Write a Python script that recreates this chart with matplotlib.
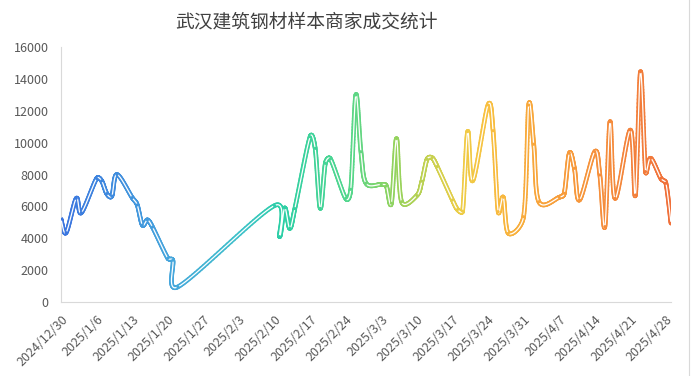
import numpy as np
import matplotlib
matplotlib.use("Agg")
import matplotlib.pyplot as plt
import matplotlib.dates as mdates
from matplotlib.collections import LineCollection
from matplotlib.colors import LinearSegmentedColormap
from matplotlib.lines import Line2D
import datetime as dt

plt.rcParams['font.family'] = ['Noto Sans CJK SC', 'DejaVu Sans']

title = "武汉建筑钢材样本商家成交统计"

dates = [
    "2024-12-30", "2024-12-31", "2025-01-02", "2025-01-03", "2025-01-06", "2025-01-07",
    "2025-01-08", "2025-01-09", "2025-01-10", "2025-01-13", "2025-01-14", "2025-01-15",
    "2025-01-16", "2025-01-17", "2025-01-20", "2025-01-21", "2025-01-22", "2025-02-10",
    "2025-02-11", "2025-02-12", "2025-02-13", "2025-02-14", "2025-02-17", "2025-02-18",
    "2025-02-19", "2025-02-20", "2025-02-21", "2025-02-24", "2025-02-25", "2025-02-26",
    "2025-02-27", "2025-02-28", "2025-03-03", "2025-03-04", "2025-03-05", "2025-03-06",
    "2025-03-07", "2025-03-10", "2025-03-11", "2025-03-12", "2025-03-13", "2025-03-14",
    "2025-03-17", "2025-03-18", "2025-03-19", "2025-03-20", "2025-03-21", "2025-03-24",
    "2025-03-25", "2025-03-26", "2025-03-27", "2025-03-28", "2025-03-31", "2025-04-01",
    "2025-04-02", "2025-04-03", "2025-04-07", "2025-04-08", "2025-04-09", "2025-04-10",
    "2025-04-11", "2025-04-14", "2025-04-15", "2025-04-16", "2025-04-17", "2025-04-18",
    "2025-04-21", "2025-04-22", "2025-04-23", "2025-04-24", "2025-04-25", "2025-04-27",
    "2025-04-28", "2025-04-29",
]
values = [
    5200, 4350, 6500, 5600, 7750, 7600,
    6800, 6650, 8000, 6550, 6090, 4830,
    5150, 4700, 2750, 2620, 950, 6050,
    4100, 5900, 4620, 5860, 10370, 9640,
    5880, 8700, 8980, 6500, 7070, 12990,
    9430, 7450, 7380, 7280, 6200, 10250,
    6290, 6680, 7580, 8950, 9050, 8500,
    6400, 5800, 5700, 10690, 7610, 12360,
    10750, 5670, 6570, 4310, 5350, 12360,
    9900, 6290, 6570, 6820, 9330, 8390,
    6400, 9430, 7970, 4730, 11310, 6500,
    10790, 6710, 14450, 8180, 9020, 7760,
    7450, 4940,
]
y_ticks = [0, 2000, 4000, 6000, 8000, 10000, 12000, 14000, 16000]
x_tick_start = "2024-12-30"
x_tick_count = 18

# colour gradient along the time axis
grad_pos = [0.0, 0.18, 0.30, 0.36, 0.47, 0.55, 0.62, 0.66, 0.70, 0.77, 0.88, 1.0]
grad_col = ["#3a74df", "#45a6dc", "#3cc2c8", "#2ccfa6", "#52d78d", "#95d35c",
            "#d2d04c", "#efcc46", "#f8c03f", "#f8a83b", "#f6913b", "#f0703a"]
cmap = LinearSegmentedColormap.from_list("g", list(zip(grad_pos, grad_col)))

d = [dt.datetime.strptime(s, "%Y-%m-%d") for s in dates]
xn = mdates.date2num(d)
yv = np.array(values, dtype=float)

fig = plt.figure(figsize=(6.92, 3.76), dpi=100)
ax = fig.add_axes([61 / 692, 1 - 302 / 376, 610 / 692, 255 / 376])
x0, x1 = xn[0], xn[-1]
ax.set_xlim(x0, x1)
ax.set_ylim(0, 16000)

# Excel-like smoothing computed in display space (cubic Bezier, limited tangents)
P = ax.transData.transform(np.column_stack([xn, yv]))
n = len(P)
curve = []
t = np.linspace(0, 1, 40)


def limit(v, L):
    ln = np.hypot(*v)
    return v * (L / ln) if ln > L and ln > 0 else v


for i in range(n - 1):
    p0 = P[i]
    p3 = P[i + 1]
    pm = P[i - 1] if i > 0 else P[i]
    pp = P[i + 2] if i + 2 < n else P[i + 1]
    seglen = np.hypot(*(p3 - p0))
    c1 = p0 + limit((p3 - pm) / 6.0, 0.5 * seglen)
    c2 = p3 - limit((pp - p0) / 6.0, 0.5 * seglen)
    seg = ((1 - t) ** 3)[:, None] * p0 + (3 * (1 - t) ** 2 * t)[:, None] * c1 \
        + (3 * (1 - t) * t ** 2)[:, None] * c2 + (t ** 3)[:, None] * p3
    curve.append(seg if i == 0 else seg[1:])
curve = ax.transData.inverted().transform(np.vstack(curve))

pts = curve.reshape(-1, 1, 2)
segs = np.concatenate([pts[:-1], pts[1:]], axis=1)
mid = (curve[:-1, 0] + curve[1:, 0]) / 2
cols = cmap(np.clip((mid - x0) / (x1 - x0), 0, 1))
lc = LineCollection(segs, colors=cols, linewidths=3.3, capstyle='round', joinstyle='round', zorder=2)
ax.add_collection(lc)
ax.plot(curve[:, 0], curve[:, 1], color="white", lw=0.9, zorder=3, solid_capstyle='round')
ax.scatter(xn, yv, s=5, c=cmap((xn - x0) / (x1 - x0)), zorder=4, linewidths=0)

ax.set_yticks(y_ticks)
ax.set_yticklabels([str(v) for v in y_ticks])

start = dt.datetime.strptime(x_tick_start, "%Y-%m-%d")
tick_dates = [start + dt.timedelta(days=7 * k) for k in range(x_tick_count)]
ax.set_xticks(mdates.date2num(tick_dates))
ax.set_xticklabels([f"{td.year}/{td.month}/{td.day}" for td in tick_dates],
                   rotation=45, ha='right', rotation_mode='anchor')

ax.tick_params(axis='both', length=0, labelsize=9, labelcolor="#595959")
ax.tick_params(axis='x', pad=8)
ax.tick_params(axis='y', pad=9)
for s in ['top', 'right']:
    ax.spines[s].set_visible(False)
for s in ['left', 'bottom']:
    ax.spines[s].set_color("#d9d9d9")
    ax.spines[s].set_linewidth(0.8)

fig.text(306 / 692, 1 - 22 / 376, title, ha='center', va='center', fontsize=13.5, color="#404040")
fig.add_artist(Line2D([689 / 692, 689 / 692], [0, 1], color="#d9d9d9", lw=0.8))

fig.savefig("out.png", dpi=100)
